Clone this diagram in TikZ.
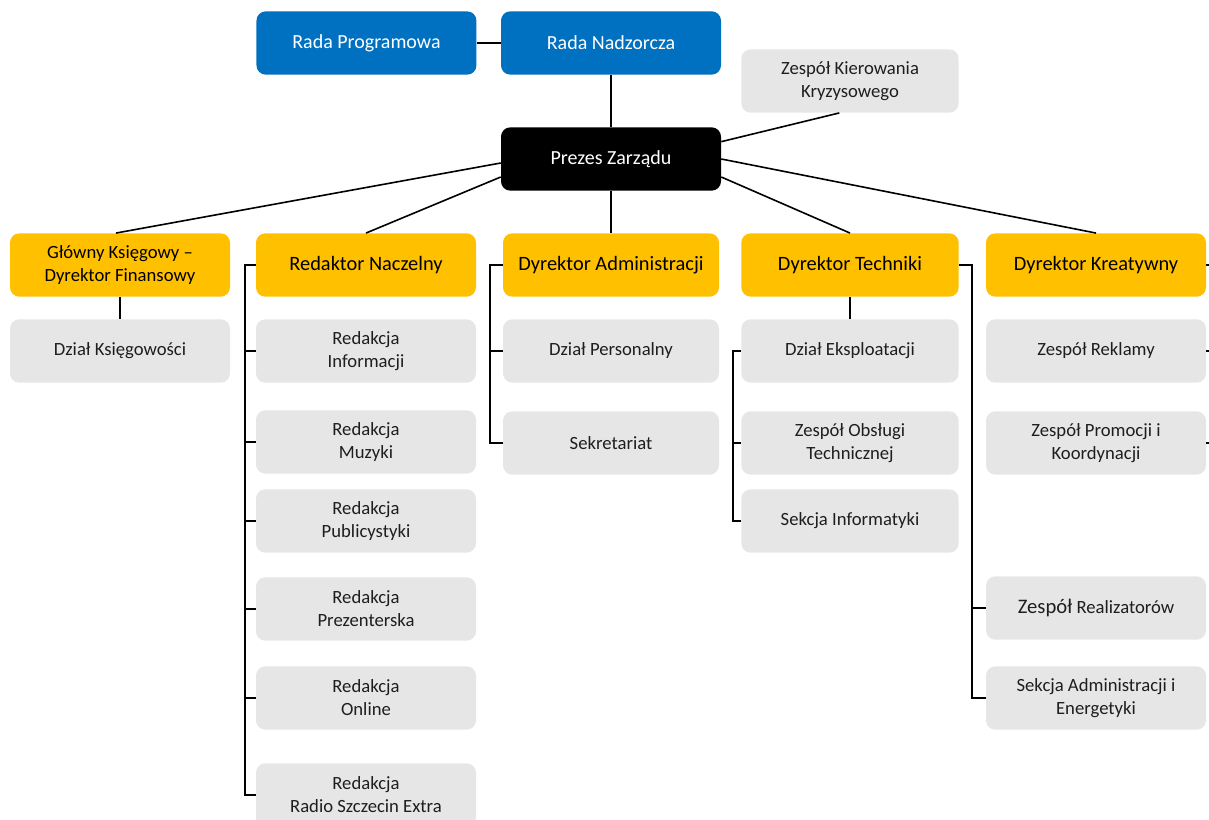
\documentclass[tikz,border=0pt]{standalone}
\usepackage{fontspec}
\setmainfont{Carlito}
\usetikzlibrary{positioning}

\definecolor{boardblue}{HTML}{0070C0}
\definecolor{diryellow}{HTML}{FFC000}
\definecolor{unitgray}{HTML}{E7E6E6}
\definecolor{unittext}{HTML}{1E1E1E}

\begin{document}
\begin{tikzpicture}[x=0.75pt, y=-0.75pt, % 1 unit = 1 px of the chart
    box/.style={rectangle, rounded corners=7pt, minimum width=165pt, minimum height=47.5pt, align=center, inner sep=2pt},
    board/.style={box, fill=boardblue, text=white, font=\fontsize{15}{18}\selectfont},
    chief/.style={box, fill=black, text=white, font=\fontsize{15}{18}\selectfont},
    director/.style={box, fill=diryellow, text=black, font=\fontsize{15.3}{18}\selectfont},
    unit/.style={box, fill=unitgray, text=unittext, font=\fontsize{14}{17.25}\selectfont},
    link/.style={draw, line width=1.2pt}]
    \useasboundingbox (0,0) rectangle (1209,820);

    % Boards
    \node[board] (radaNadz) at (611,43) {Rada Nadzorcza};
    \node[board, left=18pt of radaNadz] (radaProg) {Rada Programowa};

    % President
    \node[chief] (prezes) at (611,159) {Prezes Zarządu};
    \node[unit, minimum width=163pt] (kryzys) at (850,81) {Zespół Kierowania\\Kryzysowego};

    % Directors
    \node[director, font=\fontsize{14}{17.25}\selectfont] (glowny) at (120,265) {Główny Księgowy –\\Dyrektor Finansowy};
    \node[director] (redNacz) at (366,265) {Redaktor Naczelny};
    \node[director, minimum width=162pt] (dyrAdm) at (611,265) {Dyrektor Administracji};
    \node[director, minimum width=163pt] (dyrTech) at (850,265) {Dyrektor Techniki};
    \node[director] (dyrKreat) at (1096,265) {Dyrektor Kreatywny};

    % Finance
    \node[unit] (ksieg) at (120,351) {Dział Księgowości};

    % Newsroom
    \node[unit] (redInf) at (366,351) {Redakcja\\Informacji};
    \node[unit] (redMuz) at (366,442) {Redakcja\\Muzyki};
    \node[unit] (redPub) at (366,521) {Redakcja\\Publicystyki};
    \node[unit] (redPrez) at (366,609) {Redakcja\\Prezenterska};
    \node[unit] (redOnl) at (366,698) {Redakcja\\Online};
    \node[unit] (redRSE) at (366,795) {Redakcja\\Radio Szczecin Extra};

    % Administration
    \node[unit, minimum width=162pt] (dzPers) at (611,351) {Dział Personalny};
    \node[unit, minimum width=162pt] (sekret) at (611,443) {Sekretariat};

    % Technology
    \node[unit, minimum width=163pt] (dzEksp) at (850,351) {Dział Eksploatacji};
    \node[unit, minimum width=163pt] (zespObsl) at (850,443) {Zespół Obsługi\\Technicznej};
    \node[unit, minimum width=163pt] (sekInf) at (850,521) {Sekcja Informatyki};

    % Creative
    \node[unit] (zespRekl) at (1096,351) {Zespół Reklamy};
    \node[unit] (zespProm) at (1096,443) {Zespół Promocji i\\Koordynacji};
    \node[unit] (zespReal) at (1096,608) {{\fontsize{15.5}{18}\selectfont Zespół} Realizatorów};
    \node[unit] (sekAdm) at (1096,698) {Sekcja Administracji i\\Energetyki};

    % Bus lines
    \coordinate (redBus) at (245,0);
    \coordinate (admBus) at (490,0);
    \coordinate (techBus) at (733,0);
    \coordinate (realBus) at (972,0);
    \coordinate (edge) at (1215,0);

    % Connectors
    \draw[link] (radaProg) -- (radaNadz);
    \draw[link] (radaNadz) -- (prezes);
    \draw[link] ([yshift=13pt]prezes.east) -- ([xshift=-8pt]kryzys.south);
    \draw[link] ([yshift=-3pt]prezes.west) -- ([xshift=-3pt]glowny.north);
    \draw[link] ([yshift=-13.5pt]prezes.west) -- (redNacz.north);
    \draw[link] (prezes) -- (dyrAdm);
    \draw[link] ([yshift=-13.5pt]prezes.east) -- (dyrTech.north);
    \draw[link] (prezes.east) -- (dyrKreat.north);

    \draw[link] (glowny) -- (ksieg);

    \draw[link] (redNacz.west) -- (redBus |- redNacz.west) -- (redBus |- redRSE.west) -- (redRSE.west);
    \foreach \n in {redInf, redMuz, redPub, redPrez, redOnl}
        \draw[link] (redBus |- \n.west) -- (\n.west);

    \draw[link] (dyrAdm.west) -- (admBus |- dyrAdm.west) -- (admBus |- sekret.west) -- (sekret.west);
    \draw[link] (admBus |- dzPers.west) -- (dzPers.west);

    \draw[link] (dyrTech) -- (dzEksp);
    \draw[link] (dzEksp.west) -- (techBus |- dzEksp.west) -- (techBus |- sekInf.west) -- (sekInf.west);
    \draw[link] (techBus |- zespObsl.west) -- (zespObsl.west);

    \draw[link] (dyrTech.east) -- (realBus |- dyrTech.east) -- (realBus |- sekAdm.west) -- (sekAdm.west);
    \draw[link] (realBus |- zespReal.west) -- (zespReal.west);

    \foreach \n in {dyrKreat, zespRekl, zespProm}
        \draw[link] (\n.east) -- (edge |- \n.east);
\end{tikzpicture}
\end{document}
